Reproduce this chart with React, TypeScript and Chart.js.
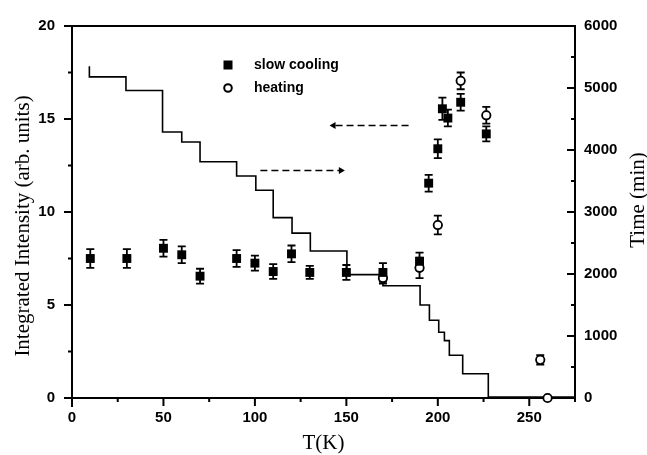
import React, { useEffect, useRef } from 'react';
import { Chart, registerables } from 'chart.js';
Chart.register(...registerables);

// slow cooling (filled squares)
const coolT = [10, 30, 50, 60, 70, 90, 100, 110, 120, 130, 150, 170, 190, 195, 200, 202.5, 205.5, 212.5, 226.5];
const coolI = [7.5, 7.5, 8.05, 7.7, 6.55, 7.5, 7.25, 6.8, 7.75, 6.75, 6.75, 6.75, 7.35, 11.55, 13.4, 15.55, 15.05, 15.9, 14.2];
const coolErr = [0.5, 0.5, 0.45, 0.45, 0.4, 0.45, 0.4, 0.4, 0.45, 0.35, 0.4, 0.5, 0.47, 0.45, 0.5, 0.6, 0.45, 0.45, 0.4];

// heating (open circles)
const heatT = [170, 190, 200, 212.5, 226.5, 256, 260];
const heatI = [6.45, 7.0, 9.3, 17.05, 15.2, 2.05, 0];
const heatErr = [0.3, 0.55, 0.5, 0.45, 0.45, 0.25, 0];

// time profile (right axis, stepped)
const timeT = [9.5, 9.5, 29.5, 49.5, 60, 70, 90, 100.5, 110, 120.3, 130.3, 150.3, 170, 190.3, 195.4, 200.5, 203.6, 206.3, 213.6, 227.6, 275];
const timeMin = [5350, 5180, 4960, 4290, 4130, 3810, 3580, 3350, 2910, 2660, 2370, 1990, 1810, 1500, 1255, 1060, 925, 690, 390, 15, 15];

// dashed arrows (left-axis units)
const arrowLeftX = [184, 143];
const arrowLeftY = [14.65, 14.65];
const arrowRightX = [103, 147];
const arrowRightY = [12.23, 12.23];

const legendLabels = ['slow cooling', 'heating'];
const xTitle = 'T(K)';
const yTitle = 'Integrated Intensity (arb. units)';
const y2Title = 'Time (min)';

const tickFont = { family: '"Liberation Sans", Arial, sans-serif', size: 15, weight: 'bold' as const };
const titleFont = '21px "Liberation Serif", "Times New Roman", serif';

export default function App() {
  const ref = useRef<HTMLCanvasElement>(null);
  useEffect(() => {
    if (!ref.current) return;
    const pts = (xs: number[], ys: number[]) => xs.map((x, i) => ({ x, y: ys[i] }));

    const axesPlugin = {
      id: 'axesBox',
      beforeDatasetsDraw(chart: any) {
        const { ctx, chartArea: { left, right, top, bottom }, scales } = chart;
        ctx.save();
        ctx.strokeStyle = '#000';
        ctx.lineWidth = 2;
        ctx.beginPath();
        ctx.moveTo(left - 8, top); ctx.lineTo(right + 1, top);
        ctx.moveTo(left, top - 1); ctx.lineTo(left, bottom + 9);
        ctx.moveTo(left - 8, bottom); ctx.lineTo(right + 1, bottom);
        ctx.moveTo(right, top - 1); ctx.lineTo(right, bottom + 4);
        // x ticks (outward)
        scales.x.ticks.forEach((t: any) => {
          const px = scales.x.getPixelForValue(t.value);
          const major = t.value % 50 === 0;
          ctx.moveTo(px, bottom); ctx.lineTo(px, bottom + (major ? 8 : 4));
        });
        // left y ticks (outward)
        scales.y.ticks.forEach((t: any) => {
          const py = scales.y.getPixelForValue(t.value);
          const major = t.value % 5 === 0;
          ctx.moveTo(left, py); ctx.lineTo(left - (major ? 8 : 4), py);
        });
        // right y ticks (inward)
        scales.y2.ticks.forEach((t: any) => {
          const py = scales.y2.getPixelForValue(t.value);
          const major = t.value % 1000 === 0;
          ctx.moveTo(right, py); ctx.lineTo(right - (major ? 8 : 4), py);
        });
        ctx.stroke();
        ctx.restore();
      },
    };

    const errorBars = {
      id: 'errorBars',
      beforeDatasetsDraw(chart: any) {
        const { ctx } = chart;
        const ys = chart.scales.y;
        const sets: [number, number[], number[]][] = [[0, coolI, coolErr], [1, heatI, heatErr]];
        ctx.save();
        ctx.strokeStyle = '#000';
        ctx.lineWidth = 1.8;
        sets.forEach(([idx, vals, errs]) => {
          const meta = chart.getDatasetMeta(idx);
          meta.data.forEach((pt: any, i: number) => {
            const e = errs[i];
            if (!e) return;
            const yt = ys.getPixelForValue(vals[i] + e);
            const yb = ys.getPixelForValue(vals[i] - e);
            ctx.beginPath();
            ctx.moveTo(pt.x, yt); ctx.lineTo(pt.x, yb);
            ctx.moveTo(pt.x - 4, yt); ctx.lineTo(pt.x + 4, yt);
            ctx.moveTo(pt.x - 4, yb); ctx.lineTo(pt.x + 4, yb);
            ctx.stroke();
          });
        });
        ctx.restore();
      },
    };

    const decor = {
      id: 'decor',
      afterDraw(chart: any) {
        const { ctx, chartArea: { left, right, top, bottom } } = chart;
        ctx.save();
        ctx.fillStyle = '#000';
        ctx.strokeStyle = '#000';
        // legend
        const lx = left + 156;
        const ly1 = top + 39;
        const ly2 = top + 62;
        ctx.fillRect(lx - 4.5, ly1 - 4.5, 9, 9);
        ctx.lineWidth = 2;
        ctx.beginPath();
        ctx.arc(lx, ly2, 3.8, 0, Math.PI * 2);
        ctx.fillStyle = '#fff';
        ctx.fill();
        ctx.stroke();
        ctx.fillStyle = '#000';
        ctx.font = 'bold 14px "Liberation Sans", Arial, sans-serif';
        ctx.textBaseline = 'middle';
        ctx.textAlign = 'left';
        ctx.fillText(legendLabels[0], lx + 26, ly1);
        ctx.fillText(legendLabels[1], lx + 26, ly2);
        // titles
        ctx.font = titleFont;
        ctx.textAlign = 'center';
        ctx.textBaseline = 'middle';
        ctx.fillText(xTitle, (left + right) / 2, bottom + 45);
        ctx.save();
        ctx.translate(23, (top + bottom) / 2 + 14);
        ctx.rotate(-Math.PI / 2);
        ctx.fillText(yTitle, 0, 0);
        ctx.restore();
        ctx.save();
        ctx.translate(638, 200);
        ctx.rotate(-Math.PI / 2);
        ctx.fillText(y2Title, 0, 0);
        ctx.restore();
        ctx.restore();
      },
    };

    const chart = new Chart(ref.current, {
      type: 'scatter',
      data: {
        datasets: [
          {
            label: legendLabels[0],
            data: pts(coolT, coolI),
            yAxisID: 'y',
            showLine: false,
            pointStyle: 'rect',
            pointRadius: 6.3,
            backgroundColor: '#000',
            borderColor: '#000',
            borderWidth: 0,
          },
          {
            label: legendLabels[1],
            data: pts(heatT, heatI),
            yAxisID: 'y',
            showLine: false,
            pointStyle: 'circle',
            pointRadius: 4.2,
            backgroundColor: '#fff',
            borderColor: '#000',
            borderWidth: 1.8,
            clip: false as any,
          },
          {
            label: 'time',
            data: pts(timeT, timeMin),
            yAxisID: 'y2',
            showLine: true,
            stepped: 'before',
            borderColor: '#000',
            borderWidth: 1.6,
            pointRadius: 0,
            fill: false,
          },
          {
            label: 'arrowL',
            data: pts(arrowLeftX, arrowLeftY),
            yAxisID: 'y',
            showLine: true,
            borderColor: '#000',
            backgroundColor: '#000',
            borderWidth: 1.5,
            borderDash: [7, 4],
            pointStyle: 'triangle',
            pointRotation: -90,
            pointRadius: [0, 4],
            pointBorderWidth: 0,
          },
          {
            label: 'arrowR',
            data: pts(arrowRightX, arrowRightY),
            yAxisID: 'y',
            showLine: true,
            borderColor: '#000',
            backgroundColor: '#000',
            borderWidth: 1.5,
            borderDash: [7, 4],
            pointStyle: 'triangle',
            pointRotation: 90,
            pointRadius: [0, 4],
            pointBorderWidth: 0,
          },
        ] as any,
      },
      options: {
        animation: false,
        responsive: false,
        events: [],
        layout: { padding: { top: 17, left: 0, right: 0, bottom: 0 } },
        plugins: { legend: { display: false }, tooltip: { enabled: false } },
        scales: {
          x: {
            type: 'linear',
            min: 0,
            max: 275,
            afterFit: (s: any) => { s.height = 57; },
            grid: { display: false, drawTicks: false },
            border: { display: false },
            ticks: {
              stepSize: 25,
              autoSkip: false,
              maxRotation: 0,
              padding: 11,
              color: '#000',
              font: tickFont,
              callback: (v: any) => (Number(v) % 50 === 0 ? String(v) : ''),
            },
          },
          y: {
            type: 'linear',
            position: 'left',
            min: 0,
            max: 20,
            afterFit: (s: any) => { s.width = 72; },
            grid: { display: false, drawTicks: false },
            border: { display: false },
            ticks: {
              stepSize: 2.5,
              autoSkip: false,
              padding: 17,
              color: '#000',
              font: tickFont,
              callback: (v: any) => (Number(v) % 5 === 0 ? String(v) : ''),
            },
          },
          y2: {
            type: 'linear',
            position: 'right',
            min: 0,
            max: 6000,
            afterFit: (s: any) => { s.width = 72; },
            grid: { display: false, drawTicks: false },
            border: { display: false },
            ticks: {
              stepSize: 500,
              autoSkip: false,
              padding: 9,
              color: '#000',
              font: tickFont,
              callback: (v: any) => (Number(v) % 1000 === 0 ? String(v) : ''),
            },
          },
        },
      } as any,
      plugins: [axesPlugin, errorBars, decor],
    });
    return () => chart.destroy();
  }, []);

  return (
    <div style={{ position: 'absolute', left: 0, top: 0, width: 647, height: 455, background: '#fff' }}>
      <canvas ref={ref} width={647} height={455} style={{ display: 'block' }} />
    </div>
  );
}
